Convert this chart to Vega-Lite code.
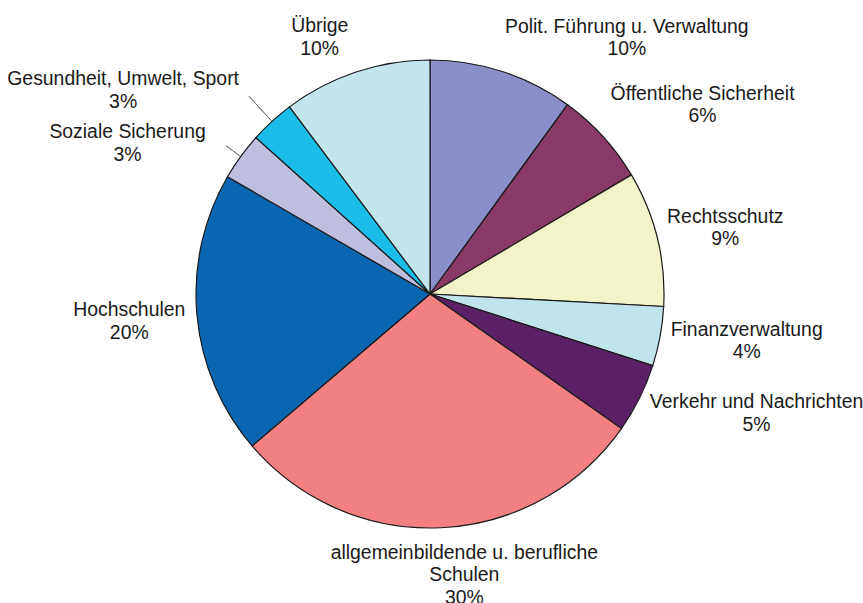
{
  "$schema": "https://vega.github.io/schema/vega-lite/v6.json",
  "width": 860,
  "height": 588,
  "autosize": {"type": "none"},
  "padding": {"left": 0, "top": 0, "right": 3, "bottom": 15},
  "background": "white",
  "view": {"stroke": null},
  "data": {
    "values": [
      {"name": "Polit. Führung u. Verwaltung", "value": 10.0, "label": "Polit. Führung u. Verwaltung\n10%"},
      {"name": "Öffentliche Sicherheit", "value": 6.5, "label": "Öffentliche Sicherheit\n6%"},
      {"name": "Rechtsschutz", "value": 9.35, "label": "Rechtsschutz\n9%"},
      {"name": "Finanzverwaltung", "value": 4.1, "label": "Finanzverwaltung\n4%"},
      {"name": "Verkehr und Nachrichten", "value": 4.8, "label": "Verkehr und Nachrichten\n5%"},
      {"name": "allgemeinbildende u. berufliche Schulen", "value": 29.0, "label": "allgemeinbildende u. berufliche\nSchulen\n30%"},
      {"name": "Hochschulen", "value": 19.6, "label": "Hochschulen\n20%"},
      {"name": "Soziale Sicherung", "value": 3.3, "label": "Soziale Sicherung\n3%"},
      {"name": "Gesundheit, Umwelt, Sport", "value": 3.1, "label": "Gesundheit, Umwelt, Sport\n3%"},
      {"name": "Übrige", "value": 10.25, "label": "Übrige\n10%"}
    ]
  },
  "transform": [
    {"window": [{"op": "row_number", "as": "idx"}]}
  ],
  "encoding": {
    "theta": {"field": "value", "type": "quantitative", "stack": true},
    "order": {"field": "idx", "type": "quantitative", "sort": "ascending"}
  },
  "layer": [
    {
      "mark": {"type": "arc", "outerRadius": 234, "stroke": "#1a1a1a", "strokeWidth": 1.2},
      "encoding": {
        "color": {
          "field": "name",
          "type": "nominal",
          "legend": null,
          "scale": {
            "domain": ["Polit. Führung u. Verwaltung", "Öffentliche Sicherheit", "Rechtsschutz", "Finanzverwaltung", "Verkehr und Nachrichten", "allgemeinbildende u. berufliche Schulen", "Hochschulen", "Soziale Sicherung", "Gesundheit, Umwelt, Sport", "Übrige"],
            "range": ["#8A8FC9", "#8A3A66", "#F3F3C9", "#C0E4EC", "#5B2066", "#F28080", "#0B66B1", "#BEBEE0", "#1ABCE8", "#C2E5EE"]
          }
        }
      }
    },
    {
      "mark": {"type": "arc", "innerRadius": 235, "outerRadius": 268, "padAngle": 3, "fill": null, "stroke": "#777777", "strokeWidth": 1},
      "encoding": {"strokeOpacity": {"condition": {"test": "datum.name === 'Gesundheit, Umwelt, Sport'", "value": 1}, "value": 0}}
    },
    {
      "mark": {"type": "arc", "innerRadius": 235, "outerRadius": 252, "padAngle": 3, "fill": null, "stroke": "#777777", "strokeWidth": 1},
      "encoding": {"strokeOpacity": {"condition": {"test": "datum.name === 'Soziale Sicherung'", "value": 1}, "value": 0}}
    },
    {
      "mark": {"type": "text", "radius": 323, "dx": 97, "dy": 40, "font": "Liberation Sans", "fontSize": 19.4, "lineBreak": "\n", "lineHeight": 22.5, "fill": "#1a1a1a", "align": "center", "baseline": "middle"},
      "encoding": {"text": {"condition": {"test": "datum.name === 'Polit. Führung u. Verwaltung'", "field": "label"}, "value": ""}}
    },
    {
      "mark": {"type": "text", "radius": 332, "dx": 27, "dy": 23, "font": "Liberation Sans", "fontSize": 19.4, "lineBreak": "\n", "lineHeight": 22.5, "fill": "#1a1a1a", "align": "center", "baseline": "middle"},
      "encoding": {"text": {"condition": {"test": "datum.name === 'Öffentliche Sicherheit'", "field": "label"}, "value": ""}}
    },
    {
      "mark": {"type": "text", "radius": 303, "dx": 1, "dy": -5, "font": "Liberation Sans", "fontSize": 19.4, "lineBreak": "\n", "lineHeight": 22.5, "fill": "#1a1a1a", "align": "center", "baseline": "middle"},
      "encoding": {"text": {"condition": {"test": "datum.name === 'Rechtsschutz'", "field": "label"}, "value": ""}}
    },
    {
      "mark": {"type": "text", "radius": 320, "dx": 2, "dy": -22, "font": "Liberation Sans", "fontSize": 19.4, "lineBreak": "\n", "lineHeight": 22.5, "fill": "#1a1a1a", "align": "center", "baseline": "middle"},
      "encoding": {"text": {"condition": {"test": "datum.name === 'Finanzverwaltung'", "field": "label"}, "value": ""}}
    },
    {
      "mark": {"type": "text", "radius": 348, "dx": 15, "dy": -47, "font": "Liberation Sans", "fontSize": 19.4, "lineBreak": "\n", "lineHeight": 22.5, "fill": "#1a1a1a", "align": "center", "baseline": "middle"},
      "encoding": {"text": {"condition": {"test": "datum.name === 'Verkehr und Nachrichten'", "field": "label"}, "value": ""}}
    },
    {
      "mark": {"type": "text", "radius": 283, "dx": 21, "dy": -24, "font": "Liberation Sans", "fontSize": 19.4, "lineBreak": "\n", "lineHeight": 22.5, "fill": "#1a1a1a", "align": "center", "baseline": "middle"},
      "encoding": {"text": {"condition": {"test": "datum.name === 'allgemeinbildende u. berufliche Schulen'", "field": "label"}, "value": ""}}
    },
    {
      "mark": {"type": "text", "radius": 302, "dy": -11, "font": "Liberation Sans", "fontSize": 19.4, "lineBreak": "\n", "lineHeight": 22.5, "fill": "#1a1a1a", "align": "center", "baseline": "middle"},
      "encoding": {"text": {"condition": {"test": "datum.name === 'Hochschulen'", "field": "label"}, "value": ""}}
    },
    {
      "mark": {"type": "text", "radius": 338, "dx": -29, "dy": 37, "font": "Liberation Sans", "fontSize": 19.4, "lineBreak": "\n", "lineHeight": 22.5, "fill": "#1a1a1a", "align": "center", "baseline": "middle"},
      "encoding": {"text": {"condition": {"test": "datum.name === 'Soziale Sicherung'", "field": "label"}, "value": ""}}
    },
    {
      "mark": {"type": "text", "radius": 370, "dx": -57, "dy": 58, "font": "Liberation Sans", "fontSize": 19.4, "lineBreak": "\n", "lineHeight": 22.5, "fill": "#1a1a1a", "align": "center", "baseline": "middle"},
      "encoding": {"text": {"condition": {"test": "datum.name === 'Gesundheit, Umwelt, Sport'", "field": "label"}, "value": ""}}
    },
    {
      "mark": {"type": "text", "radius": 279, "dx": -22, "dy": -3, "font": "Liberation Sans", "fontSize": 19.4, "lineBreak": "\n", "lineHeight": 22.5, "fill": "#1a1a1a", "align": "center", "baseline": "middle"},
      "encoding": {"text": {"condition": {"test": "datum.name === 'Übrige'", "field": "label"}, "value": ""}}
    }
  ]
}
